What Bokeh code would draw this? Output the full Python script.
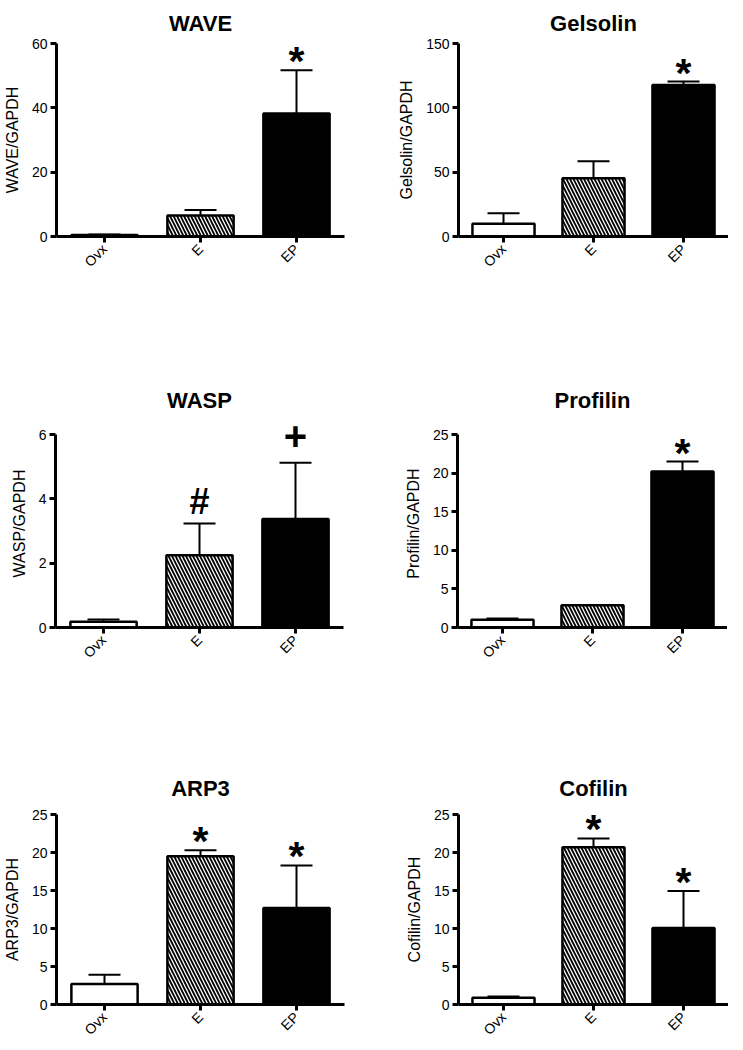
import math
from bokeh.plotting import figure
from bokeh.layouts import column, row
from bokeh.models import (ColumnDataSource, Whisker, TeeHead, FixedTicker,
                          FactorRange, Range1d, LabelSet)
from bokeh.core.properties import value, field
from bokeh.embed import file_html
from bokeh.resources import INLINE

groups = ["Ovx", "E", "EP"]

wave_mean = [0.5, 6.5, 38.2]
wave_sem = [0.1, 1.7, 13.5]
gelsolin_mean = [10.0, 45.3, 117.8]
gelsolin_sem = [8.0, 13.1, 2.6]
wasp_mean = [0.18, 2.25, 3.37]
wasp_sem = [0.07, 0.98, 1.75]
profilin_mean = [1.0, 2.88, 20.2]
profilin_sem = [0.15, 0.05, 1.3]
arp3_mean = [2.7, 19.5, 12.7]
arp3_sem = [1.2, 0.8, 5.6]
cofilin_mean = [0.9, 20.7, 10.05]
cofilin_sem = [0.15, 1.15, 4.9]

wave_ticks = [0, 20, 40, 60]
gelsolin_ticks = [0, 50, 100, 150]
wasp_ticks = [0, 2, 4, 6]
profilin_ticks = [0, 5, 10, 15, 20, 25]
arp3_ticks = [0, 5, 10, 15, 20, 25]
cofilin_ticks = [0, 5, 10, 15, 20, 25]

wave_marks = ["", "", "*"]
gelsolin_marks = ["", "", "*"]
wasp_marks = ["", "#", "+"]
profilin_marks = ["", "", "*"]
arp3_marks = ["", "*", "*"]
cofilin_marks = ["", "*", "*"]

bar_fills = ["white", "white", "black"]
bar_hatches = [" ", "\\", " "]

# style: screen offset (px, upward) of each significance symbol above its error bar
MARK_OFFSET = {"*": 9, "#": 22, "+": 27, "": 0}
MARK_SIZE = {"*": "41px", "#": "36px", "+": "40px", "": "10px"}

FONT = "Liberation Sans"


def panel(title, ylabel, means, sems, ticks, marks, left,
          top_b, axis_h, head_px, bottom_b, t_standoff):
    if left:
        lb, fw, rb = 55, 288, 22
    else:
        lb, fw, rb = 92, 270, 0
    top = ticks[-1]
    frame_h = axis_h + head_px
    y_end = top * frame_h / axis_h
    p = figure(x_range=FactorRange(*groups), y_range=Range1d(0, y_end),
               frame_width=fw, frame_height=frame_h,
               min_border_left=lb, min_border_right=rb,
               min_border_top=top_b, min_border_bottom=bottom_b,
               output_backend="svg", toolbar_location=None)
    p.outline_line_color = None
    p.xgrid.grid_line_color = None
    p.ygrid.grid_line_color = None

    src = ColumnDataSource(dict(
        g=groups, m=means, u=[a + b for a, b in zip(means, sems)],
        fill=bar_fills, hatch=bar_hatches, mk=marks,
        off=[MARK_OFFSET[k] for k in marks],
        fs=[MARK_SIZE[k] for k in marks]))

    p.vbar(x="g", top="m", bottom=0, width=0.69, source=src,
           fill_color="fill", line_color="black", line_width=2.5,
           hatch_pattern=field("hatch"), hatch_color="black",
           hatch_weight=1.8, hatch_scale=7)

    w = Whisker(base="g", upper="u", lower="m", source=src,
                line_color="black", line_width=2,
                upper_head=TeeHead(size=32, line_width=2, line_color="black"),
                lower_head=None)
    p.add_layout(w)

    labels = LabelSet(x="g", y="u", text="mk", source=src,
                      text_font=value(FONT), text_font_style="bold",
                      text_font_size=field("fs"), text_align="center",
                      text_baseline="middle", text_color="black",
                      y_offset=field("off"))
    p.add_layout(labels)

    p.title.text = title
    p.title.align = "center"
    p.title.offset = -12
    p.title.text_font = FONT
    p.title.text_font_size = "22px"
    p.title.text_font_style = "bold"
    p.title.text_color = "black"
    p.title.text_line_height = 1.0
    p.title.standoff = t_standoff

    p.yaxis.ticker = FixedTicker(ticks=ticks)
    p.yaxis.bounds = (0, top)
    p.yaxis.axis_label = ylabel
    for ax in (p.xaxis[0], p.yaxis[0]):
        ax.axis_line_width = 3
        ax.axis_line_color = "black"
        ax.major_tick_line_width = 3
        ax.major_tick_line_color = "black"
        ax.major_tick_out = 6
        ax.major_tick_in = 0
        ax.minor_tick_line_color = None
        ax.major_label_text_font = FONT
        ax.major_label_text_font_size = "14px"
        ax.major_label_text_color = "black"
    p.yaxis.major_label_standoff = 3
    p.yaxis.axis_label_text_font = FONT
    p.yaxis.axis_label_text_font_size = "16px"
    p.yaxis.axis_label_text_font_style = "normal"
    p.yaxis.axis_label_text_color = "black"
    p.yaxis.axis_label_standoff = 8
    p.xaxis.major_label_orientation = math.pi / 4
    p.xaxis.major_label_standoff = 4
    return p


p1 = panel("WAVE", "WAVE/GAPDH", wave_mean, wave_sem, wave_ticks, wave_marks, True, 40, 193, 0, 142, 16)
p2 = panel("Gelsolin", "Gelsolin/GAPDH", gelsolin_mean, gelsolin_sem, gelsolin_ticks, gelsolin_marks, False, 40, 193, 0, 142, 16)
p3 = panel("WASP", "WASP/GAPDH", wasp_mean, wasp_sem, wasp_ticks, wasp_marks, True, 40, 193, 15, 131, 14)
p4 = panel("Profilin", "Profilin/GAPDH", profilin_mean, profilin_sem, profilin_ticks, profilin_marks, False, 40, 193, 15, 131, 14)
p5 = panel("ARP3", "ARP3/GAPDH", arp3_mean, arp3_sem, arp3_ticks, arp3_marks, True, 56, 190, 0, 34, 28)
p6 = panel("Cofilin", "Cofilin/GAPDH", cofilin_mean, cofilin_sem, cofilin_ticks, cofilin_marks, False, 56, 190, 0, 34, 28)

layout = column(row(p1, p2), row(p3, p4), row(p5, p6))

with open("out.html", "w") as f:
    f.write(file_html(layout, INLINE))
